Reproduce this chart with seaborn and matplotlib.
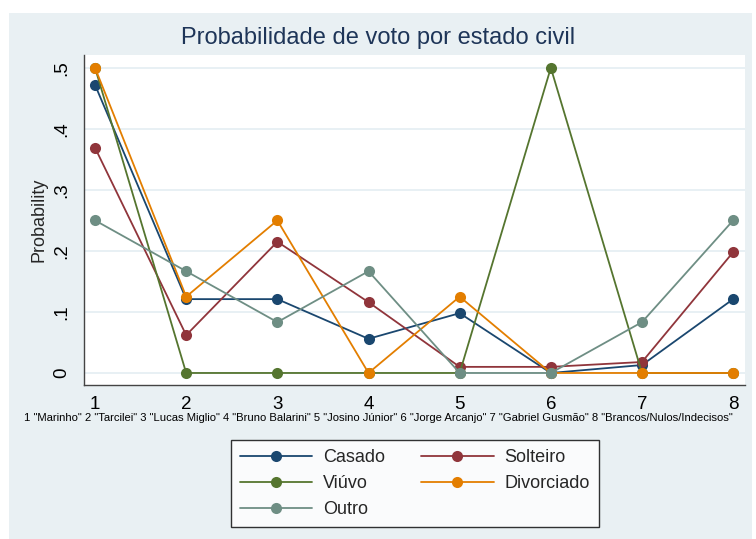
import pandas as pd
import matplotlib
matplotlib.use("Agg")
import matplotlib.pyplot as plt
from matplotlib.lines import Line2D
from matplotlib.patches import Rectangle
import seaborn as sns

# candidatos (eixo x)
candidatos = [1, 2, 3, 4, 5, 6, 7, 8]
rotulos_x = ["1", "2", "3", "4", "5", "6", "7", "8"]
legenda_x = ('1 "Marinho" 2 "Tarcilei" 3 "Lucas Miglio" 4 "Bruno Balarini" '
             '5 "Josino Júnior" 6 "Jorge Arcanjo" 7 "Gabriel Gusmão" '
             '8 "Brancos/Nulos/Indecisos"')

# probabilidades por estado civil
casado = [0.472, 0.121, 0.121, 0.056, 0.098, 0.0, 0.013, 0.121]
solteiro = [0.369, 0.062, 0.215, 0.116, 0.010, 0.010, 0.018, 0.198]
viuvo = [0.5, 0.0, 0.0, 0.0, 0.0, 0.5, 0.0, 0.0]
divorciado = [0.5, 0.125, 0.25, 0.0, 0.125, 0.0, 0.0, 0.0]
outro = [0.25, 0.1667, 0.0833, 0.1667, 0.0, 0.0, 0.0833, 0.25]

y_ticks = [0, 0.1, 0.2, 0.3, 0.4, 0.5]
y_rotulos = ["0", ".1", ".2", ".3", ".4", ".5"]

series = {
    "Casado": casado,
    "Solteiro": solteiro,
    "Viúvo": viuvo,
    "Divorciado": divorciado,
    "Outro": outro,
}
ordem = ["Casado", "Solteiro", "Viúvo", "Divorciado", "Outro"]

# cores estilo s2color do Stata
cores = {
    "Casado": "#1a476f",
    "Solteiro": "#90353b",
    "Viúvo": "#55752f",
    "Divorciado": "#e37e00",
    "Outro": "#6e8e84",
}

linhas = []
for nome in ordem:
    for x, p in zip(candidatos, series[nome]):
        linhas.append({"cand": x, "prob": p, "estado": nome})
df = pd.DataFrame(linhas)

sns.set_style("white")
plt.rcParams["font.family"] = ["Liberation Sans", "DejaVu Sans"]

fundo = "#e9f0f3"
fig = plt.figure(figsize=(7.56, 5.39), dpi=100, facecolor="white")
fig.patches.append(Rectangle((9 / 756, 0), 743 / 756, 1 - 13 / 539,
                             transform=fig.transFigure, facecolor=fundo,
                             edgecolor="none", zorder=-10))

ax = fig.add_axes([84 / 756, 1 - 385 / 539, 661 / 756, 330 / 539])
ax.set_facecolor("white")

for y in y_ticks:
    ax.axhline(y, color="#e4eef2", lw=1.2, zorder=0)

sns.lineplot(
    data=df, x="cand", y="prob", hue="estado", hue_order=ordem,
    palette=cores, marker="o", markersize=8, markeredgewidth=0,
    linewidth=1.3, legend=False, ax=ax, zorder=3
)

ax.set_xlim(0.879, 8.13)
ax.set_ylim(-0.0197, 0.521)
ax.set_xticks(candidatos)
ax.set_xticklabels(rotulos_x, fontsize=13.5)
ax.set_yticks(y_ticks)
ax.set_yticklabels(y_rotulos, fontsize=13.5, rotation=90, va="center")
ax.set_xlabel("")
ax.set_ylabel("Probability", fontsize=13, labelpad=4)

for s in ["top", "right"]:
    ax.spines[s].set_visible(False)
for s in ["left", "bottom"]:
    ax.spines[s].set_color("#444444")
    ax.spines[s].set_linewidth(1.0)
ax.tick_params(axis="x", direction="out", length=7, width=1.0,
               color="#444444", labelcolor="black", pad=1)
ax.tick_params(axis="y", direction="out", length=7, width=1.0,
               color="#444444", labelcolor="black", pad=3)

fig.text(0.5, 1 - 38 / 539, "Probabilidade de voto por estado civil",
         ha="center", va="center", fontsize=17, color="#1e3558")

fig.text(378 / 756, 1 - 418 / 539, legenda_x, ha="center", va="center",
         fontsize=8.1, color="black",
         family=["Liberation Sans Narrow", "Liberation Sans", "DejaVu Sans"])

# matplotlib preenche por coluna: reordena para ler por linha
ordem_leg = ["Casado", "Viúvo", "Outro", "Solteiro", "Divorciado"]
handles = [Line2D([0], [0], color=cores[n], lw=1.3, marker="o",
                  markersize=8, markeredgewidth=0) for n in ordem_leg]
leg = fig.legend(handles, ordem_leg, loc="center", ncol=2,
                 bbox_to_anchor=(415 / 756, 1 - 483.5 / 539),
                 fontsize=13, frameon=True, fancybox=False,
                 edgecolor="black", handlelength=4.0, columnspacing=2.0,
                 handletextpad=0.6, labelspacing=0.5, borderpad=0.5)
leg.get_frame().set_linewidth(1.0)

fig.savefig("out.png", dpi=100, facecolor=fig.get_facecolor())
